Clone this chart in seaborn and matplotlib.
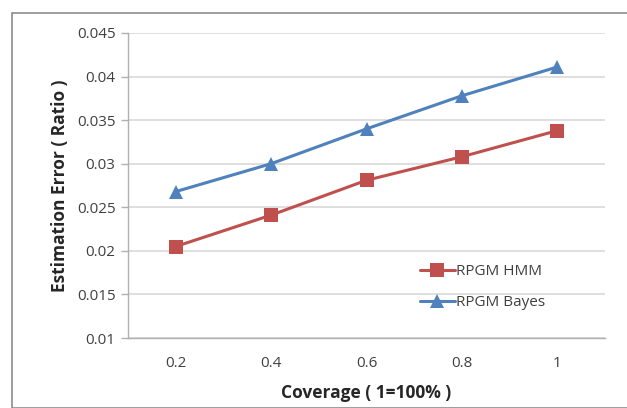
import matplotlib
matplotlib.use("Agg")
import matplotlib.pyplot as plt
import seaborn as sns
import pandas as pd
from matplotlib.patches import Rectangle

coverage = ["0.2", "0.4", "0.6", "0.8", "1"]
hmm = [0.0205, 0.0241, 0.0281, 0.0308, 0.0338]
bayes = [0.0268, 0.0300, 0.0340, 0.0378, 0.0411]
series_names = ["RPGM HMM", "RPGM Bayes"]
y_ticks = [0.01, 0.015, 0.02, 0.025, 0.03, 0.035, 0.04, 0.045]
y_labels = ["0.01", "0.015", "0.02", "0.025", "0.03", "0.035", "0.04", "0.045"]

df = pd.DataFrame({
    "Coverage": coverage * 2,
    "Error": hmm + bayes,
    "Series": [series_names[0]] * 5 + [series_names[1]] * 5,
})

sns.set_style("white")
plt.rcParams["font.family"] = ["Open Sans", "DejaVu Sans"]

fig = plt.figure(figsize=(6.27, 4.08), dpi=100)
ax = fig.add_axes([128 / 627, 1 - 338 / 408, (605 - 128) / 627, (338 - 33) / 408])

# outer frame
fig.patches.append(Rectangle((12 / 627, 0), 1.0, 1 - 13 / 408, transform=fig.transFigure,
                             fill=False, edgecolor="#8c8c8c", linewidth=1.2, zorder=0))

sns.lineplot(data=df, x="Coverage", y="Error", hue="Series", style="Series",
             palette={"RPGM HMM": "#C0504D", "RPGM Bayes": "#4F81BD"},
             markers={"RPGM HMM": "s", "RPGM Bayes": "^"},
             dashes=False, markersize=10.5, linewidth=2.2, markeredgewidth=0,
             sort=False, ax=ax)

ax.set_xlim(-0.5, 4.5)
ax.set_ylim(0.01, 0.045)
ax.set_yticks(y_ticks)
ax.set_yticklabels(y_labels)
ax.yaxis.grid(True, color="#d9d9d9", linewidth=1.2)
ax.xaxis.grid(False)

ax.set_xticks(range(len(coverage)))
ax.set_xticklabels(coverage)
ax.set_xticks([i - 0.5 for i in range(len(coverage) + 1)], minor=True)
ax.tick_params(axis="x", which="major", length=0, pad=13, labelsize=11, labelcolor="#404040")
ax.tick_params(axis="x", which="minor", length=5, width=1, color="#b0b0b0", direction="out")
ax.tick_params(axis="y", which="major", length=5, width=1, color="#b0b0b0", direction="out",
               labelsize=11, labelcolor="#404040", left=True, pad=4)

for s in ["top", "right"]:
    ax.spines[s].set_visible(False)
for s in ["left", "bottom"]:
    ax.spines[s].set_color("#b0b0b0")
    ax.spines[s].set_linewidth(1)

ax.set_xlabel("Coverage ( 1=100% )", fontsize=12.5, fontweight="bold", color="#262626", labelpad=9)
ax.set_ylabel("Estimation Error ( Ratio )", fontsize=12.5, fontweight="bold", color="#262626", labelpad=6)

leg = ax.legend(loc="upper left", bbox_to_anchor=((412 - 128) / 477, (338 - 258) / 305 + 0.005),
                frameon=False, fontsize=11, handlelength=2.3, handletextpad=0.1,
                labelspacing=1.05, borderpad=0)
for t in leg.get_texts():
    t.set_color("#404040")

fig.savefig("out.png", dpi=100)
